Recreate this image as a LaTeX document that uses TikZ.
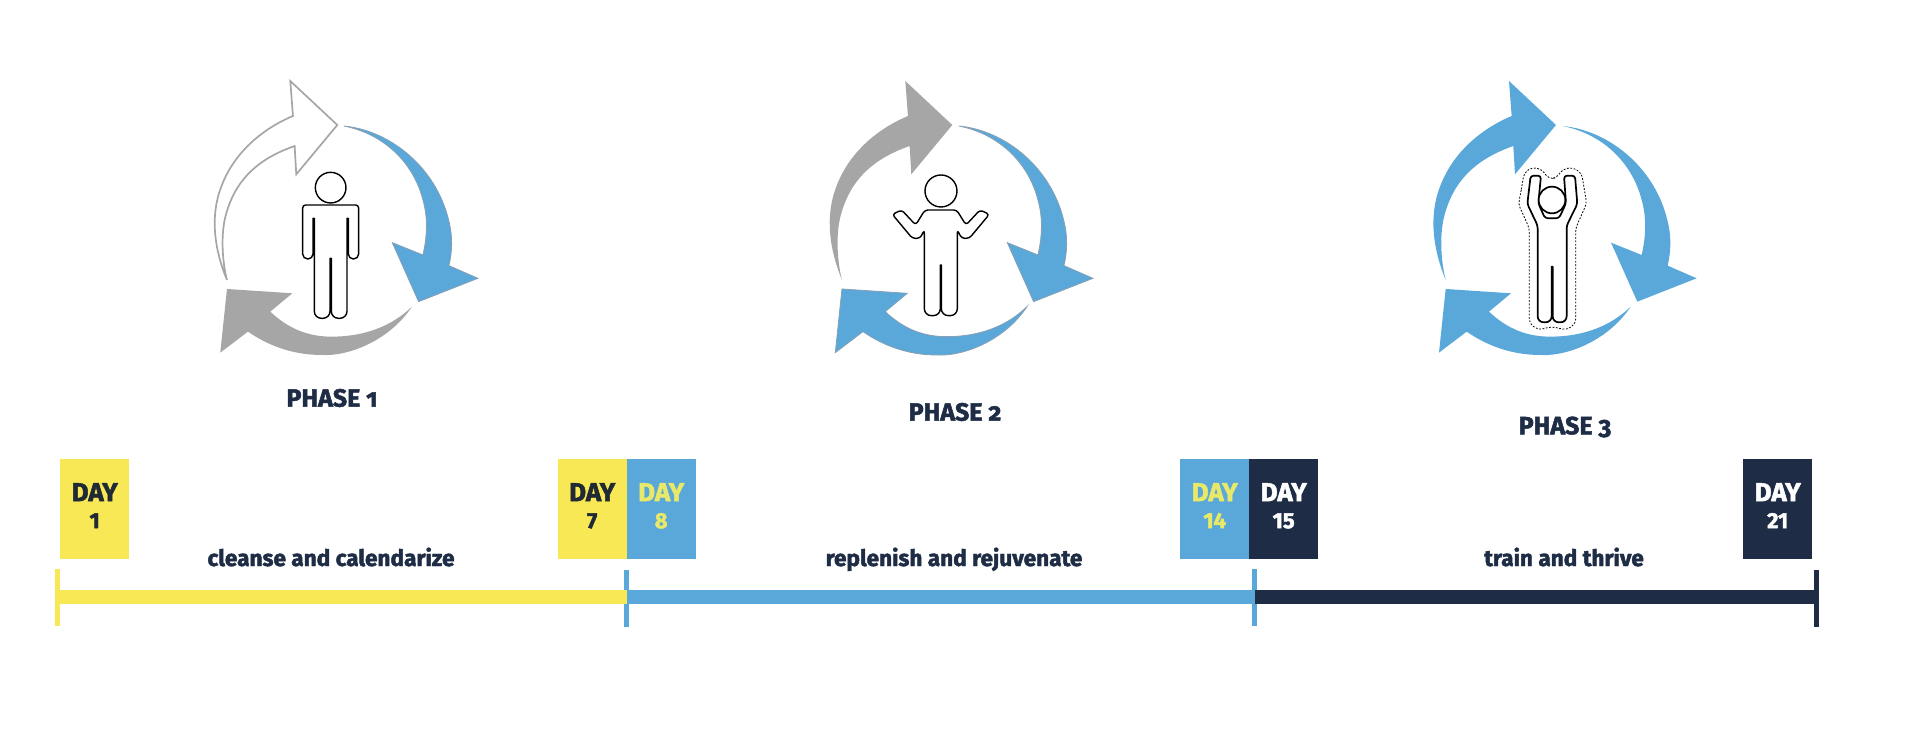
\documentclass[tikz,border=0pt]{standalone}
\usepackage{fontspec}
\setmainfont{Fira Sans}[Numbers=OldStyle, BoldFeatures={FakeBold=2}]
\usetikzlibrary{positioning}
\definecolor{phaseYellow}{RGB}{249, 232, 85}
\definecolor{phaseBlue}{RGB}{90, 168, 218}
\definecolor{phaseNavy}{RGB}{30, 45, 69}
\definecolor{ringGray}{RGB}{166, 166, 166}
\definecolor{ringEdge}{RGB}{135, 160, 180}
\definecolor{dayInk}{RGB}{32, 42, 52}
\definecolor{dayLemon}{RGB}{232, 232, 105}
\newcommand{\ringTop}[1]{\path[#1] (107,660) .. controls (70,570) and (55,470) .. (90,380) .. controls (125,285) and (205,210) .. (305,168) -- (297,63) -- (438,195) -- (315,343) -- (310,258) .. controls (220,290) and (130,345) .. (100,480) .. controls (90,530) and (92,600) .. (107,660) -- cycle;}
\newcommand{\ringRight}[1]{\path[#1] (458,198) .. controls (600,212) and (735,325) .. (772,480) .. controls (785,530) and (783,575) .. (773,617) -- (860,655) -- (682,725) -- (603,548) -- (695,585) .. controls (710,520) and (708,465) .. (695,420) .. controls (670,320) and (590,225) .. (458,198) -- cycle;}
\newcommand{\ringLow}[1]{\path[#1] (662,740) .. controls (600,835) and (480,890) .. (390,885) .. controls (310,885) and (235,860) .. (170,815) -- (87,878) -- (107,687) -- (303,700) -- (237,755) .. controls (290,805) and (350,832) .. (430,830) .. controls (520,828) and (600,800) .. (662,740) -- cycle;}
\newcommand{\daynum}{\fontsize{22}{27}\selectfont\addfontfeature{Numbers=Lining}}
\begin{document}
\begin{tikzpicture}[
    x=1pt, y=-1pt,
    every node/.style={font=\bfseries},
    iconzoom/.style={x=0.3333pt, y=-0.3333pt},
    ringhollow/.style={draw=ringGray, fill=white, line width=1.7pt},
    ringgrey/.style={fill=ringGray},
    ringblue/.style={fill=phaseBlue},
    ringblueedge/.style={fill=phaseBlue, draw=ringEdge, line width=0.8pt},
    person/.style={draw=black, fill=white, line width=1.4pt, line join=round},
    daybox/.style={anchor=north west, minimum width=69pt, minimum height=100pt, inner sep=0pt, align=center, text depth=7pt, font=\fontsize{26}{27}\selectfont\bfseries},
    phaselabel/.style={text=phaseNavy, font=\fontsize{25}{28}\selectfont\bfseries},
    spanlabel/.style={anchor=base, text=phaseNavy, font=\fontsize{22.6}{26}\selectfont\bfseries},
    timebar/.style={line width=14pt},
    tickmark/.style={minimum width=5pt, minimum height=57pt, inner sep=0pt},
]
\useasboundingbox (0,0) rectangle (1920,730);
% icons
\begin{scope}[shift={(191.3,60)}, iconzoom]
\ringTop{ringhollow}
\ringRight{ringblueedge}
\ringLow{ringgrey}
\end{scope}
\begin{scope}[shift={(806.3,60)}, iconzoom]
\ringTop{ringgrey}
\ringRight{ringblueedge}
\ringLow{ringblueedge}
\end{scope}
\begin{scope}[shift={(1410,60)}, iconzoom]
\ringTop{ringblue}
\ringRight{ringblue}
\ringLow{ringblue}
\end{scope}
% persons
\begin{scope}[shift={(180,60)}, iconzoom]
\draw[person] (452,383) circle (46);
\draw[person, rounded corners=3pt] (368,435) -- (536,435) [rounded corners=5pt] -- (536,597) -- (505,597) [sharp corners] -- (505,475) -- (501,475) [rounded corners=7pt] -- (501,775) -- (454,775) [sharp corners] -- (454,595) -- (450,595) [rounded corners=7pt] -- (450,775) -- (403,775) [sharp corners] -- (403,475) -- (399,475) [rounded corners=5pt] -- (399,597) -- (368,597) [rounded corners=3pt] -- cycle;
\end{scope}
\begin{scope}[shift={(810,60)}, iconzoom]
\draw[person] (393,393) circle (48);
\draw[person, rounded corners=3pt] (345,450) -- (440,450) -- (468,495) -- (510,450) -- (538,463) -- (478,535) -- (455,535) -- (442,510) [rounded corners=7pt] -- (442,767) -- (394,767) [sharp corners] -- (394,615) -- (391,615) [rounded corners=7pt] -- (391,767) -- (343,767) [rounded corners=3pt] -- (343,510) -- (330,535) -- (307,535) -- (247,463) -- (275,450) -- (317,495) -- cycle;
\end{scope}
\begin{scope}[shift={(1410,60)}, iconzoom]
\draw[dash pattern=on 1.8pt off 1.6pt, line width=0.8pt, rounded corners=4pt] (332,400) -- (342,340) -- (365,322) -- (395,328) -- (415,355) -- (438,355) -- (458,328) -- (488,322) -- (515,340) -- (530,430) -- (497,505) -- (497,790) -- (470,810) -- (425,800) -- (385,810) -- (358,790) -- (358,505) -- (325,432) -- cycle;
\draw[person, line width=1.7pt, rounded corners=3pt] (362,347) -- (393,347) -- (385,430) -- (405,475) -- (447,475) -- (468,430) -- (462,347) -- (495,347) -- (502,432) -- (470,497) [rounded corners=6pt] -- (470,787) -- (428,787) [sharp corners] -- (428,620) -- (425,620) [rounded corners=6pt] -- (425,787) -- (383,787) [rounded corners=3pt] -- (383,497) -- (352,432) -- cycle;
\draw[person, line width=1.7pt] (426,420) circle (40);
\end{scope}
% phase labels
\node[phaselabel] (phaseOne) at (332,398) {PHASE 1};
\node[phaselabel] (phaseTwo) at (955,412) {PHASE 2};
\node[phaselabel] (phaseThree) at (1565,427) {PHASE 3};
% day boxes
\node[daybox, fill=phaseYellow, text=dayInk] (dayOne) at (60,459) {DAY\\{\daynum 1}};
\node[daybox, fill=phaseYellow, text=dayInk] (daySeven) at (557.5,459) {DAY\\{\daynum 7}};
\node[daybox, fill=phaseBlue, text=dayLemon] (dayEight) at (626.5,459) {DAY\\{\daynum 8}};
\node[daybox, fill=phaseBlue, text=dayLemon] (dayFourteen) at (1180,459) {DAY\\{\daynum 14}};
\node[daybox, fill=phaseNavy, text=white] (dayFifteen) at (1249,459) {DAY\\{\daynum 15}};
\node[daybox, fill=phaseNavy, text=white] (dayTwentyOne) at (1743,459) {DAY\\{\daynum 21}};
% timeline
\node[spanlabel] (spanOne) at (331,566) {cleanse and calendarize};
\node[spanlabel] (spanTwo) at (954,566) {replenish and rejuvenate};
\node[spanlabel] (spanThree) at (1564,566) {train and thrive};
\node[tickmark, fill=phaseYellow] (tickA) at (57.5,597) {};
\node[tickmark, fill=phaseBlue] (tickB) at (626.5,598.5) {};
\node[tickmark, fill=phaseBlue] (tickC) at (1254.5,597) {};
\node[tickmark, fill=phaseNavy] (tickD) at (1816.5,598.5) {};
\draw[timebar, draw=phaseYellow] (tickA.center) -- (tickA.center -| tickB.center);
\draw[timebar, draw=phaseBlue] (tickA.center -| tickB.center) -- (tickC.center);
\draw[timebar, draw=phaseNavy] (tickC.center) -- (tickC.center -| tickD.center);
\end{tikzpicture}
\end{document}
